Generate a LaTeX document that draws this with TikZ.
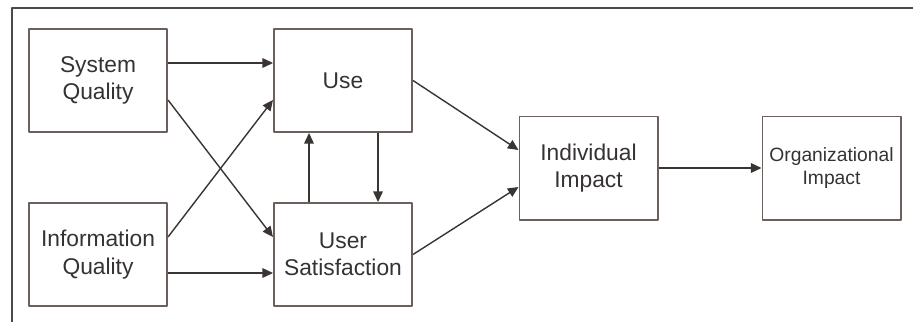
\documentclass[tikz,border=0pt]{standalone}
\usepackage{fontspec}
\setmainfont{Liberation Sans}
\usetikzlibrary{arrows.meta,calc}
\definecolor{boxc}{HTML}{6B605C}
\definecolor{arrc}{HTML}{3A3434}
\definecolor{txtc}{HTML}{363232}
\begin{document}
\begin{tikzpicture}[x=0.025cm, y=-0.025cm, >={Triangle[length=7.5pt,width=6.8pt]}, line join=round,
    box/.style={draw=boxc, line width=1.4pt, minimum width=3.45cm, minimum height=2.575cm,
        align=center, text=txtc, font=\fontsize{16.2}{19.4}\selectfont, inner sep=0pt},
    arr/.style={->, draw=arrc, line width=1pt}]
    \useasboundingbox (0,0) rectangle (913,322);
    \draw[arrc!90, line width=1.1pt] (12,322) -- (12,8) -- (913,8); % frame
    \node[box] (sq) at (98,80.5) {System\\Quality};
    \node[box] (iq) at (98,254.5) {Information\\Quality};
    \node[box] (use) at (343,80.5) {Use};
    \node[box] (us) at (343,254.5) {User\\Satisfaction};
    \node[box] (ii) at (588.5,168) {Individual\\Impact};
    \node[box, font=\fontsize{13.7}{16.4}\selectfont] (oi) at (831.5,168) {Organizational\\Impact};
    \draw[arr] ($(sq.east)+(0,-17.5)$) -- ($(use.west)+(0,-17.5)$);
    \draw[arr] ($(sq.east)+(0,19.5)$) -- ($(us.west)+(0,-17.5)$);
    \draw[arr] ($(iq.east)+(0,-17.5)$) -- ($(use.west)+(0,19.5)$);
    \draw[arr] ($(iq.east)+(0,18.5)$) -- ($(us.west)+(0,18.5)$);
    \draw[arr] ($(us.north)+(-34,0)$) -- ($(use.south)+(-34,0)$);
    \draw[arr] ($(use.south)+(35,0)$) -- ($(us.north)+(35,0)$);
    \draw[arr] (use.east) -- ($(ii.west)+(0,-18)$);
    \draw[arr] (us.east) -- ($(ii.west)+(0,19)$);
    \draw[arr] (ii.east) -- (oi.west);
\end{tikzpicture}
\end{document}
